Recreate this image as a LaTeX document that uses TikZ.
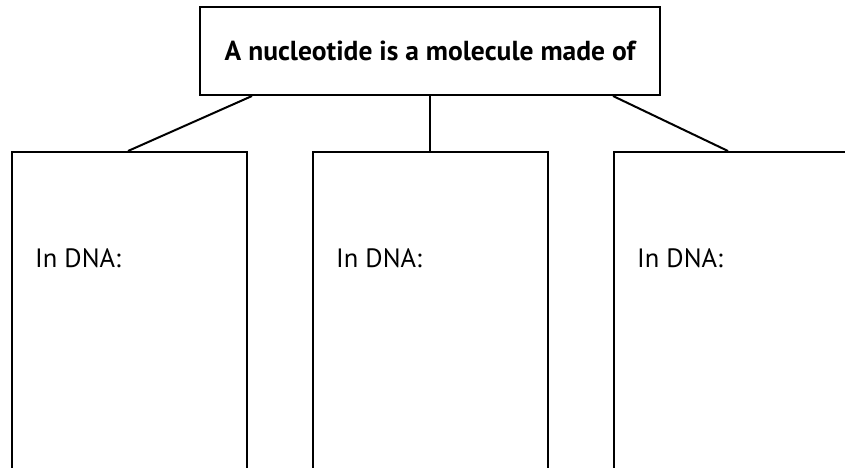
\documentclass[tikz,border=0pt]{standalone}
\usepackage{fontspec}
\setmainfont{PT Sans}
\usetikzlibrary{calc}
\begin{document}
\begin{tikzpicture}[x=1pt,y=-1pt,
  frame/.style={draw=black, line width=2pt, fill=white, inner sep=0pt},
  link/.style={draw=black, line width=2pt},
  label/.style={anchor=west, inner sep=0pt, font=\fontsize{26.5}{30}\selectfont}]
  \useasboundingbox (0,0) rectangle (845,467);
  \clip (0,0) rectangle (845,467);
  % heading box
  \node[frame, minimum width=460pt, minimum height=88pt] (top) at (430,51)
    {\fontsize{27.5}{31}\selectfont\bfseries A nucleotide is a molecule made of};
  % three answer boxes, running past the lower edge
  \node[frame, minimum width=235pt, minimum height=340pt, anchor=north west] (b1) at (11,151) {};
  \node[frame, minimum width=235pt, minimum height=340pt, anchor=north west] (b2) at (312,151) {};
  \node[frame, minimum width=260pt, minimum height=340pt, anchor=north west] (b3) at (613,151) {};
  \node[label] (t1) at (35,258) {In DNA:};
  \node[label] (t2) at (336,258) {In DNA:};
  \node[label] (t3) at (637,258) {In DNA:};
  % connectors
  \draw[link] ($(top.south west)+(53,0)$) -- ($(b1.north west)+(117,0)$);
  \draw[link] (top.south) -- (top.south |- b2.north);
  \draw[link] ($(top.south east)+(-48,0)$) -- ($(b3.north west)+(115,0)$);
\end{tikzpicture}
\end{document}
